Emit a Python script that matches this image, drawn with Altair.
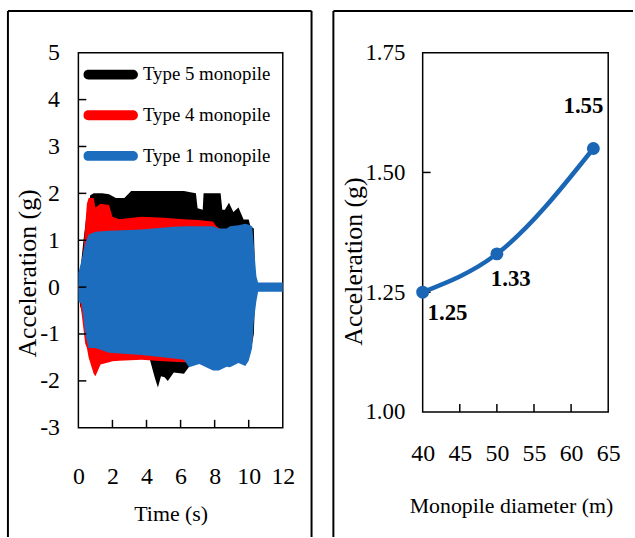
import altair as alt
import pandas as pd

FONT = "Liberation Serif"
SERIES = ["Type 5 monopile", "Type 4 monopile", "Type 1 monopile"]
COLORS = ["#000000", "#ff0000", "#1c6dbd"]
LINE_BLUE = "#1a66b5"

# ---- left panel: acceleration envelopes (upper / lower) ----
t_type5 = [0.0, 0.1, 0.3, 0.5, 0.7, 0.9, 1.4, 1.8, 2.2, 2.7, 3.1, 4.2, 4.35, 4.5, 4.67,
           4.85, 5.06, 5.25, 5.6, 6.2, 6.5, 6.9, 7.0, 7.3, 7.35, 8.35, 8.45, 8.6, 8.84,
           9.1, 9.4, 9.7, 10.0, 10.1, 10.3, 10.4]
hi_type5 = [0.0, 0.3, 1.0, 1.6, 1.96, 2.0, 2.0, 1.98, 1.9, 1.9, 2.05, 2.05, 2.05, 2.05, 2.05,
            2.05, 2.05, 2.05, 2.05, 2.05, 2.03, 2.0, 1.68, 1.65, 2.0, 2.0, 1.65, 1.65, 1.8,
            1.6, 1.7, 1.44, 1.44, 1.3, 1.25, 0.0]
lo_type5 = [0.0, -0.4, -0.65, -1.0, -1.3, -1.5, -1.5, -1.5, -1.5, -1.5, -1.5, -1.55, -1.75, -1.95, -2.14,
            -1.9, -1.92, -2.0, -1.82, -1.85, -1.7, -1.55, -1.55, -1.55, -1.55, -1.55, -1.55, -1.55, -1.55,
            -1.55, -1.55, -1.5, -1.5, -1.4, -1.0, 0.0]

t_type4 = [0.0, 0.3, 0.4, 0.5, 0.6, 0.9, 1.0, 1.3, 1.8, 2.0, 2.4, 3.7, 5.0, 6.2, 7.0,
           7.9, 8.1, 8.5, 8.84, 9.0, 10.0, 10.2, 10.35]
hi_type4 = [0.0, 0.8, 1.3, 1.78, 1.9, 1.9, 1.7, 1.78, 1.75, 1.5, 1.45, 1.5, 1.48, 1.45, 1.43,
            1.4, 1.3, 1.2, 1.15, 1.2, 1.2, 1.1, 0.0]
lo_type4 = [0.0, -0.9, -1.2, -1.3, -1.5, -1.85, -1.9, -1.65, -1.6, -1.58, -1.57, -1.55, -1.58, -1.6, -1.6,
            -1.6, -1.6, -1.6, -1.6, -1.55, -1.5, -1.2, 0.0]

t_type1 = [0.0, 0.2, 0.4, 0.6, 1.0, 1.8, 3.7, 5.6, 6.2, 6.5, 7.1, 7.9, 8.25, 8.7, 8.9,
           9.4, 9.8, 10.0, 10.2, 10.3, 10.45, 10.55, 12.0]
hi_type1 = [0.3, 0.59, 0.94, 1.12, 1.18, 1.2, 1.23, 1.29, 1.3, 1.3, 1.3, 1.3, 1.25, 1.25, 1.3,
            1.32, 1.35, 1.33, 1.3, 0.9, 0.23, 0.1, 0.1]
lo_type1 = [-0.3, -0.36, -1.0, -1.3, -1.3, -1.4, -1.45, -1.52, -1.55, -1.71, -1.64, -1.78, -1.78, -1.7, -1.71,
            -1.62, -1.68, -1.57, -1.3, -0.72, -0.3, -0.1, -0.1]

time_ticks = [0, 2, 4, 6, 8, 10, 12]
acc_ticks = [-3, -2, -1, 0, 1, 2, 3, 4, 5]

# ---- right panel ----
diameter = [40, 50, 63]
peak_acc = [1.25, 1.33, 1.55]
peak_labels = ["1.25", "1.33", "1.55"]
diam_ticks = [40, 45, 50, 55, 60, 65]
peak_ticks = [1.0, 1.25, 1.5, 1.75]

W1, H1 = 206, 378
W2, H2 = 187, 362
TICK = 8

LEGEND_PATH = ("M-0.82,-0.18H0.82A0.18,0.18,0,0,1,0.82,0.18H-0.82"
               "A0.18,0.18,0,0,1,-0.82,-0.18Z")

color_scale = alt.Scale(domain=SERIES, range=COLORS)
legend = alt.Legend(title=None, orient="none", legendX=5, legendY=12,
                    symbolType=LEGEND_PATH, symbolSize=3025, symbolStrokeWidth=0,
                    symbolOpacity=1, clipHeight=20, rowPadding=21,
                    labelFontSize=19, labelFont=FONT, labelColor="black",
                    labelOffset=5, padding=0)


def axis(values, title, lpad, tpad, extent, lsize=24, tsize=22, **kw):
    return alt.Axis(values=values, title=title, grid=False, domain=False, ticks=False,
                    tickSize=0, labelFont=FONT, labelFontSize=lsize, labelColor="black",
                    labelPadding=lpad, labelFlush=False, labelOverlap=False,
                    titleFont=FONT, titleFontSize=tsize, titleFontWeight="normal",
                    titleColor="black", titlePadding=tpad, minExtent=extent,
                    maxExtent=extent, **kw)


x1 = alt.X("t:Q", scale=alt.Scale(domain=[0, 12], nice=False),
           axis=axis(time_ticks, "Time (s)", 37, 14, 62, titleX=93))
y1 = alt.Y("hi:Q", scale=alt.Scale(domain=[-3, 5], nice=False),
           axis=axis(acc_ticks, "Acceleration (g)", 19, 0, 38, tsize=26, titleY=222,
                     labelExpr="'' + datum.value"))

frame_src = pd.DataFrame({"k": [0]})


def env_df(name, t, hi, lo):
    return pd.DataFrame({"series": name, "t": t, "hi": hi, "lo": lo})


areas = []
for name, t, hi, lo in [(SERIES[0], t_type5, hi_type5, lo_type5),
                        (SERIES[1], t_type4, hi_type4, lo_type4),
                        (SERIES[2], t_type1, hi_type1, lo_type1)]:
    areas.append(
        alt.Chart(env_df(name, t, hi, lo)).mark_area(opacity=1, interpolate="linear").encode(
            x=x1, y=y1, y2="lo:Q",
            color=alt.Color("series:N", scale=color_scale, legend=legend),
        )
    )

xt1 = alt.Chart(pd.DataFrame({"t": time_ticks[1:-1]})).mark_rule(color="black", strokeWidth=1.5).encode(
    x=x1, y=alt.value(H1), y2=alt.value(H1 - TICK))
yt1 = alt.Chart(pd.DataFrame({"hi": acc_ticks[1:-1]})).mark_rule(color="black", strokeWidth=1.5).encode(
    y=y1, x=alt.value(0), x2=alt.value(TICK))


def frame_rule(x, x2, y, y2):
    return alt.Chart(frame_src).mark_rule(color="black", strokeWidth=2).encode(
        x=alt.value(x), x2=alt.value(x2), y=alt.value(y), y2=alt.value(y2))


left = alt.layer(
    frame_rule(-71, -71, -42, 488),
    frame_rule(-71, 235, -42, -42),
    frame_rule(235, 235, -42, 488),
    *areas, xt1, yt1,
).properties(width=W1, height=H1)

# ---- right panel ----
x2e = alt.X("d:Q", scale=alt.Scale(domain=[40, 65], nice=False),
            axis=axis(diam_ticks, "Monopile diameter (m)", 30, 30, 54, titleX=89))
y2e = alt.Y("a:Q", scale=alt.Scale(domain=[1.0, 1.75], nice=False),
            axis=axis(peak_ticks, "Acceleration (g)", 18, 0, 57, lsize=23, tsize=26,
                      titleY=210, format=".2f"))

pk = pd.DataFrame({"d": diameter, "a": peak_acc, "lab": peak_labels})
line = alt.Chart(pk).mark_line(color=LINE_BLUE, strokeWidth=4.5, interpolate="monotone").encode(x=x2e, y=y2e)
pts = alt.Chart(pk).mark_point(filled=True, color=LINE_BLUE, size=170, opacity=1).encode(x=x2e, y=y2e)

label_offsets = [(25, 21), (14, 25), (-10, -43)]
texts = []
for i, (dx, dy) in enumerate(label_offsets):
    texts.append(
        alt.Chart(pk.iloc[[i]]).mark_text(font=FONT, fontSize=23, fontWeight="bold", color="black",
                                           dx=dx, dy=dy, align="center", baseline="middle").encode(
            x=x2e, y=y2e, text="lab:N")
    )

xt2 = alt.Chart(pd.DataFrame({"d": diam_ticks[1:-1]})).mark_rule(color="black", strokeWidth=1.5).encode(
    x=x2e, y=alt.value(H2), y2=alt.value(H2 - TICK))
yt2 = alt.Chart(pd.DataFrame({"a": [1.25, 1.5]})).mark_rule(color="black", strokeWidth=1.5).encode(
    y=y2e, x=alt.value(0), x2=alt.value(TICK))

right = alt.layer(
    frame_rule(-90, -90, -42, 488),
    frame_rule(-90, 212, -42, -42),
    xt2, yt2, line, pts, *texts,
).properties(width=W2, height=H2)

chart = alt.hconcat(left, right, spacing=18).properties(
    padding={"left": 6, "top": 7, "right": 0, "bottom": 0},
    background="white",
).configure_view(stroke="black", strokeWidth=1.5)

chart.save("out.html", embed_options={"renderer": "svg", "actions": False})
